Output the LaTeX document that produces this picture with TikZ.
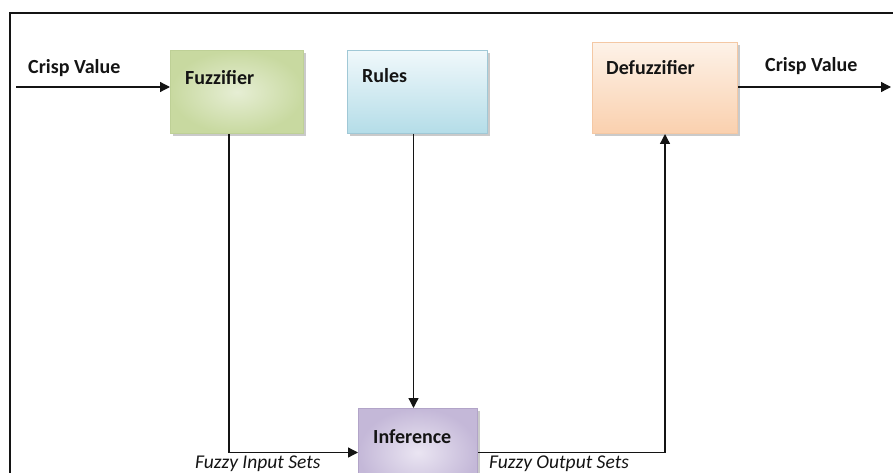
\documentclass[tikz,border=0pt]{standalone}
\usepackage{fontspec}
\setmainfont{Carlito}
\usetikzlibrary{shadows,arrows.meta}

\definecolor{fuzFill}{RGB}{200,217,160}
\definecolor{fuzLight}{RGB}{230,238,212}
\definecolor{fuzEdge}{RGB}{190,208,150}
\definecolor{rulTop}{RGB}{240,248,251}
\definecolor{rulBot}{RGB}{180,221,232}
\definecolor{rulEdge}{RGB}{160,200,214}
\definecolor{defTop}{RGB}{253,242,232}
\definecolor{defBot}{RGB}{250,208,174}
\definecolor{defEdge}{RGB}{244,200,164}
\definecolor{infFill}{RGB}{196,184,216}
\definecolor{infLight}{RGB}{234,229,242}
\definecolor{infEdge}{RGB}{178,164,200}
\definecolor{ink}{RGB}{20,20,20}

\tikzset{
  blockbox/.style={rectangle, draw, line width=1pt, anchor=north west,
    drop shadow={shadow xshift=2.5pt, shadow yshift=-2.5pt, fill=black!35, opacity=0.6}},
  lbl/.style={font=\bfseries\fontsize{20}{22}\selectfont, text=ink, anchor=base west, inner sep=0pt},
  setlbl/.style={font=\itshape\fontsize{19.5}{22}\selectfont, text=ink, anchor=base west, inner sep=0pt},
  flow/.style={line width=1.3pt, draw=ink, -{Triangle[length=10pt,width=10pt]}}
}

\begin{document}
\begin{tikzpicture}[x=1pt,y=-1pt]
  \useasboundingbox (0,0) rectangle (893,473);
  \clip (0,0) rectangle (893,473);

  % outer frame, open at the right and bottom
  \draw[line width=1.8pt, draw=ink] (10,480) -- (10,13) -- (900,13);

  % processing blocks
  \node[blockbox, draw=fuzEdge, inner color=fuzLight, outer color=fuzFill,
        minimum width=133pt, minimum height=83pt] (fuz) at (170,50) {};
  \node[blockbox, draw=rulEdge, top color=rulTop, bottom color=rulBot,
        minimum width=140pt, minimum height=83pt] (rul) at (347,50) {};
  \node[blockbox, draw=defEdge, top color=defTop, bottom color=defBot,
        minimum width=145pt, minimum height=91pt] (def) at (592,42) {};
  \node[blockbox, draw=infEdge, inner color=infLight, outer color=infFill,
        minimum width=119pt, minimum height=88pt] (inf) at (358,408) {};

  % block titles
  \node[lbl] at ([shift={(15,35)}]fuz.north west) {Fuzzifier};
  \node[lbl] at ([shift={(15,33)}]rul.north west) {Rules};
  \node[lbl] at ([shift={(14,33)}]def.north west) {Defuzzifier};
  \node[lbl] at ([shift={(15,35)}]inf.north west) {Inference};

  % free ends of the crisp input and output
  \coordinate (cin) at (16,87);
  \coordinate (cout) at (891,87);

  % connectors
  \draw[flow] (cin) -- (cin -| fuz.west);
  \draw[flow] ([xshift=-8pt]fuz.south) |- (inf.west);
  \draw[flow] ([xshift=-4pt]rul.south) -- ([xshift=-4pt]rul.south |- inf.north);
  \draw[flow] (inf.east) -| (def.south);
  \draw[flow] (def.east |- cout) -- (cout);

  % signal labels
  \node[lbl] at (28,74) {Crisp Value};
  \node[lbl] at (765,72) {Crisp Value};
  \node[setlbl] at (195,468) {Fuzzy Input Sets};
  \node[setlbl] at (489,468) {Fuzzy Output Sets};
\end{tikzpicture}
\end{document}
